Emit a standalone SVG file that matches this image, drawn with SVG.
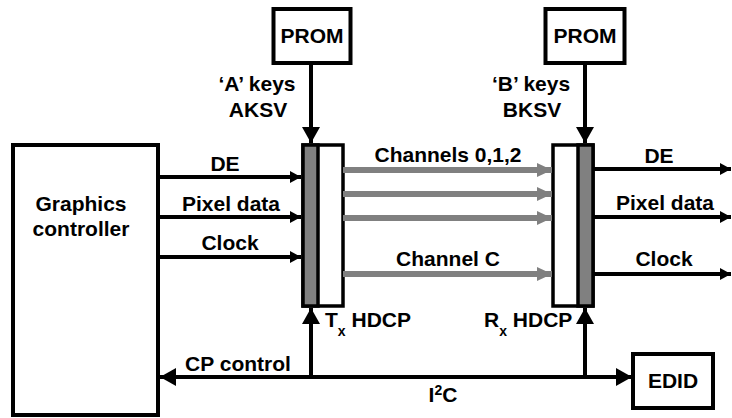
<svg xmlns="http://www.w3.org/2000/svg" width="732" height="418" viewBox="0 0 732 418">
<defs>
<style>
text{font-family:"Liberation Sans",Arial,sans-serif;font-weight:bold;font-size:21px;fill:#000}
.m{text-anchor:middle}
.box{fill:#fff;stroke:#000;stroke-width:4}
.blk{fill:#fff;stroke:#000;stroke-width:3.5}
.gry{fill:#808080;stroke:#000;stroke-width:3.5}
.sig{stroke:#000;stroke-width:4;fill:none;marker-end:url(#ah)}
.big{stroke:#000;stroke-width:4;fill:none;marker-end:url(#ab)}
.ch{stroke:#808080;stroke-width:6;fill:none;marker-end:url(#ag)}
</style>
<marker id="ah" viewBox="0 0 11 12" refX="11" refY="6" markerWidth="11" markerHeight="12" markerUnits="userSpaceOnUse" orient="auto"><path d="M0,0L11,6L0,12z" fill="#000"/></marker>
<marker id="ab" viewBox="0 0 16 18" refX="16" refY="9" markerWidth="16" markerHeight="18" markerUnits="userSpaceOnUse" orient="auto-start-reverse"><path d="M0,0L16,9L0,18z" fill="#000"/></marker>
<marker id="ag" viewBox="0 0 15 14" refX="15" refY="7" markerWidth="15" markerHeight="14" markerUnits="userSpaceOnUse" orient="auto"><path d="M0,0L15,7L0,14z" fill="#808080"/></marker>
</defs>
<g id="graphics-controller">
<rect class="box" x="13" y="145" width="145" height="270"/>
<text class="m" x="81" y="211">Graphics</text>
<text class="m" x="81" y="236">controller</text>
</g>
<g id="prom-a">
<rect class="box" x="273.5" y="9" width="77" height="54"/>
<text class="m" x="312" y="43">PROM</text>
</g>
<g id="prom-b">
<rect class="box" x="545.5" y="9" width="79" height="54"/>
<text class="m" x="585" y="43">PROM</text>
</g>
<g id="tx-hdcp">
<rect class="blk" x="303" y="145" width="40" height="161"/>
<rect class="gry" x="303" y="145" width="15" height="161"/>
<text x="325" y="327">T<tspan font-size="14" dy="9">x</tspan><tspan dy="-9"> HDCP</tspan></text>
</g>
<g id="rx-hdcp">
<rect class="blk" x="553" y="145" width="40" height="161"/>
<rect class="gry" x="578" y="145" width="15" height="161"/>
<text x="484" y="327">R<tspan font-size="14" dy="9">x</tspan><tspan dy="-9"> HDCP</tspan></text>
</g>
<g id="edid">
<rect class="box" x="633" y="354" width="80" height="54"/>
<text class="m" x="673" y="388">EDID</text>
</g>
<g id="connectors">
<line class="big" x1="311" y1="63" x2="311" y2="143"/>
<line class="big" x1="585" y1="63" x2="585" y2="143"/>
<line class="sig" x1="158" y1="177" x2="301" y2="177"/>
<line class="sig" x1="158" y1="217" x2="301" y2="217"/>
<line class="sig" x1="158" y1="257" x2="301" y2="257"/>
<line class="ch" x1="343" y1="170" x2="552" y2="170"/>
<line class="ch" x1="343" y1="194" x2="552" y2="194"/>
<line class="ch" x1="343" y1="218" x2="552" y2="218"/>
<line class="ch" x1="343" y1="274" x2="552" y2="274"/>
<line class="sig" x1="593" y1="169" x2="731" y2="169"/>
<line class="sig" x1="593" y1="217" x2="731" y2="217"/>
<line class="sig" x1="593" y1="274" x2="731" y2="274"/>
<line class="big" x1="160" y1="377" x2="632" y2="377" style="marker-start:url(#ab)"/>
<line class="big" x1="311" y1="377" x2="311" y2="308"/>
<line class="big" x1="585" y1="377" x2="585" y2="308"/>
</g>
<g id="labels">
<text class="m" x="257" y="91">‘A’ keys</text>
<text class="m" x="258" y="117">AKSV</text>
<text class="m" x="531" y="91">‘B’ keys</text>
<text class="m" x="532" y="117">BKSV</text>
<text class="m" x="225" y="171">DE</text>
<text class="m" x="231" y="211">Pixel data</text>
<text class="m" x="230" y="250">Clock</text>
<text class="m" x="448" y="162">Channels 0,1,2</text>
<text class="m" x="448" y="266">Channel C</text>
<text class="m" x="659" y="163">DE</text>
<text class="m" x="665" y="210">Pixel data</text>
<text class="m" x="664" y="266">Clock</text>
<text class="m" x="238" y="371">CP control</text>
<text class="m" x="443" y="402">I<tspan font-size="14" dy="-7">2</tspan><tspan dy="7">C</tspan></text>
</g>
</svg>
